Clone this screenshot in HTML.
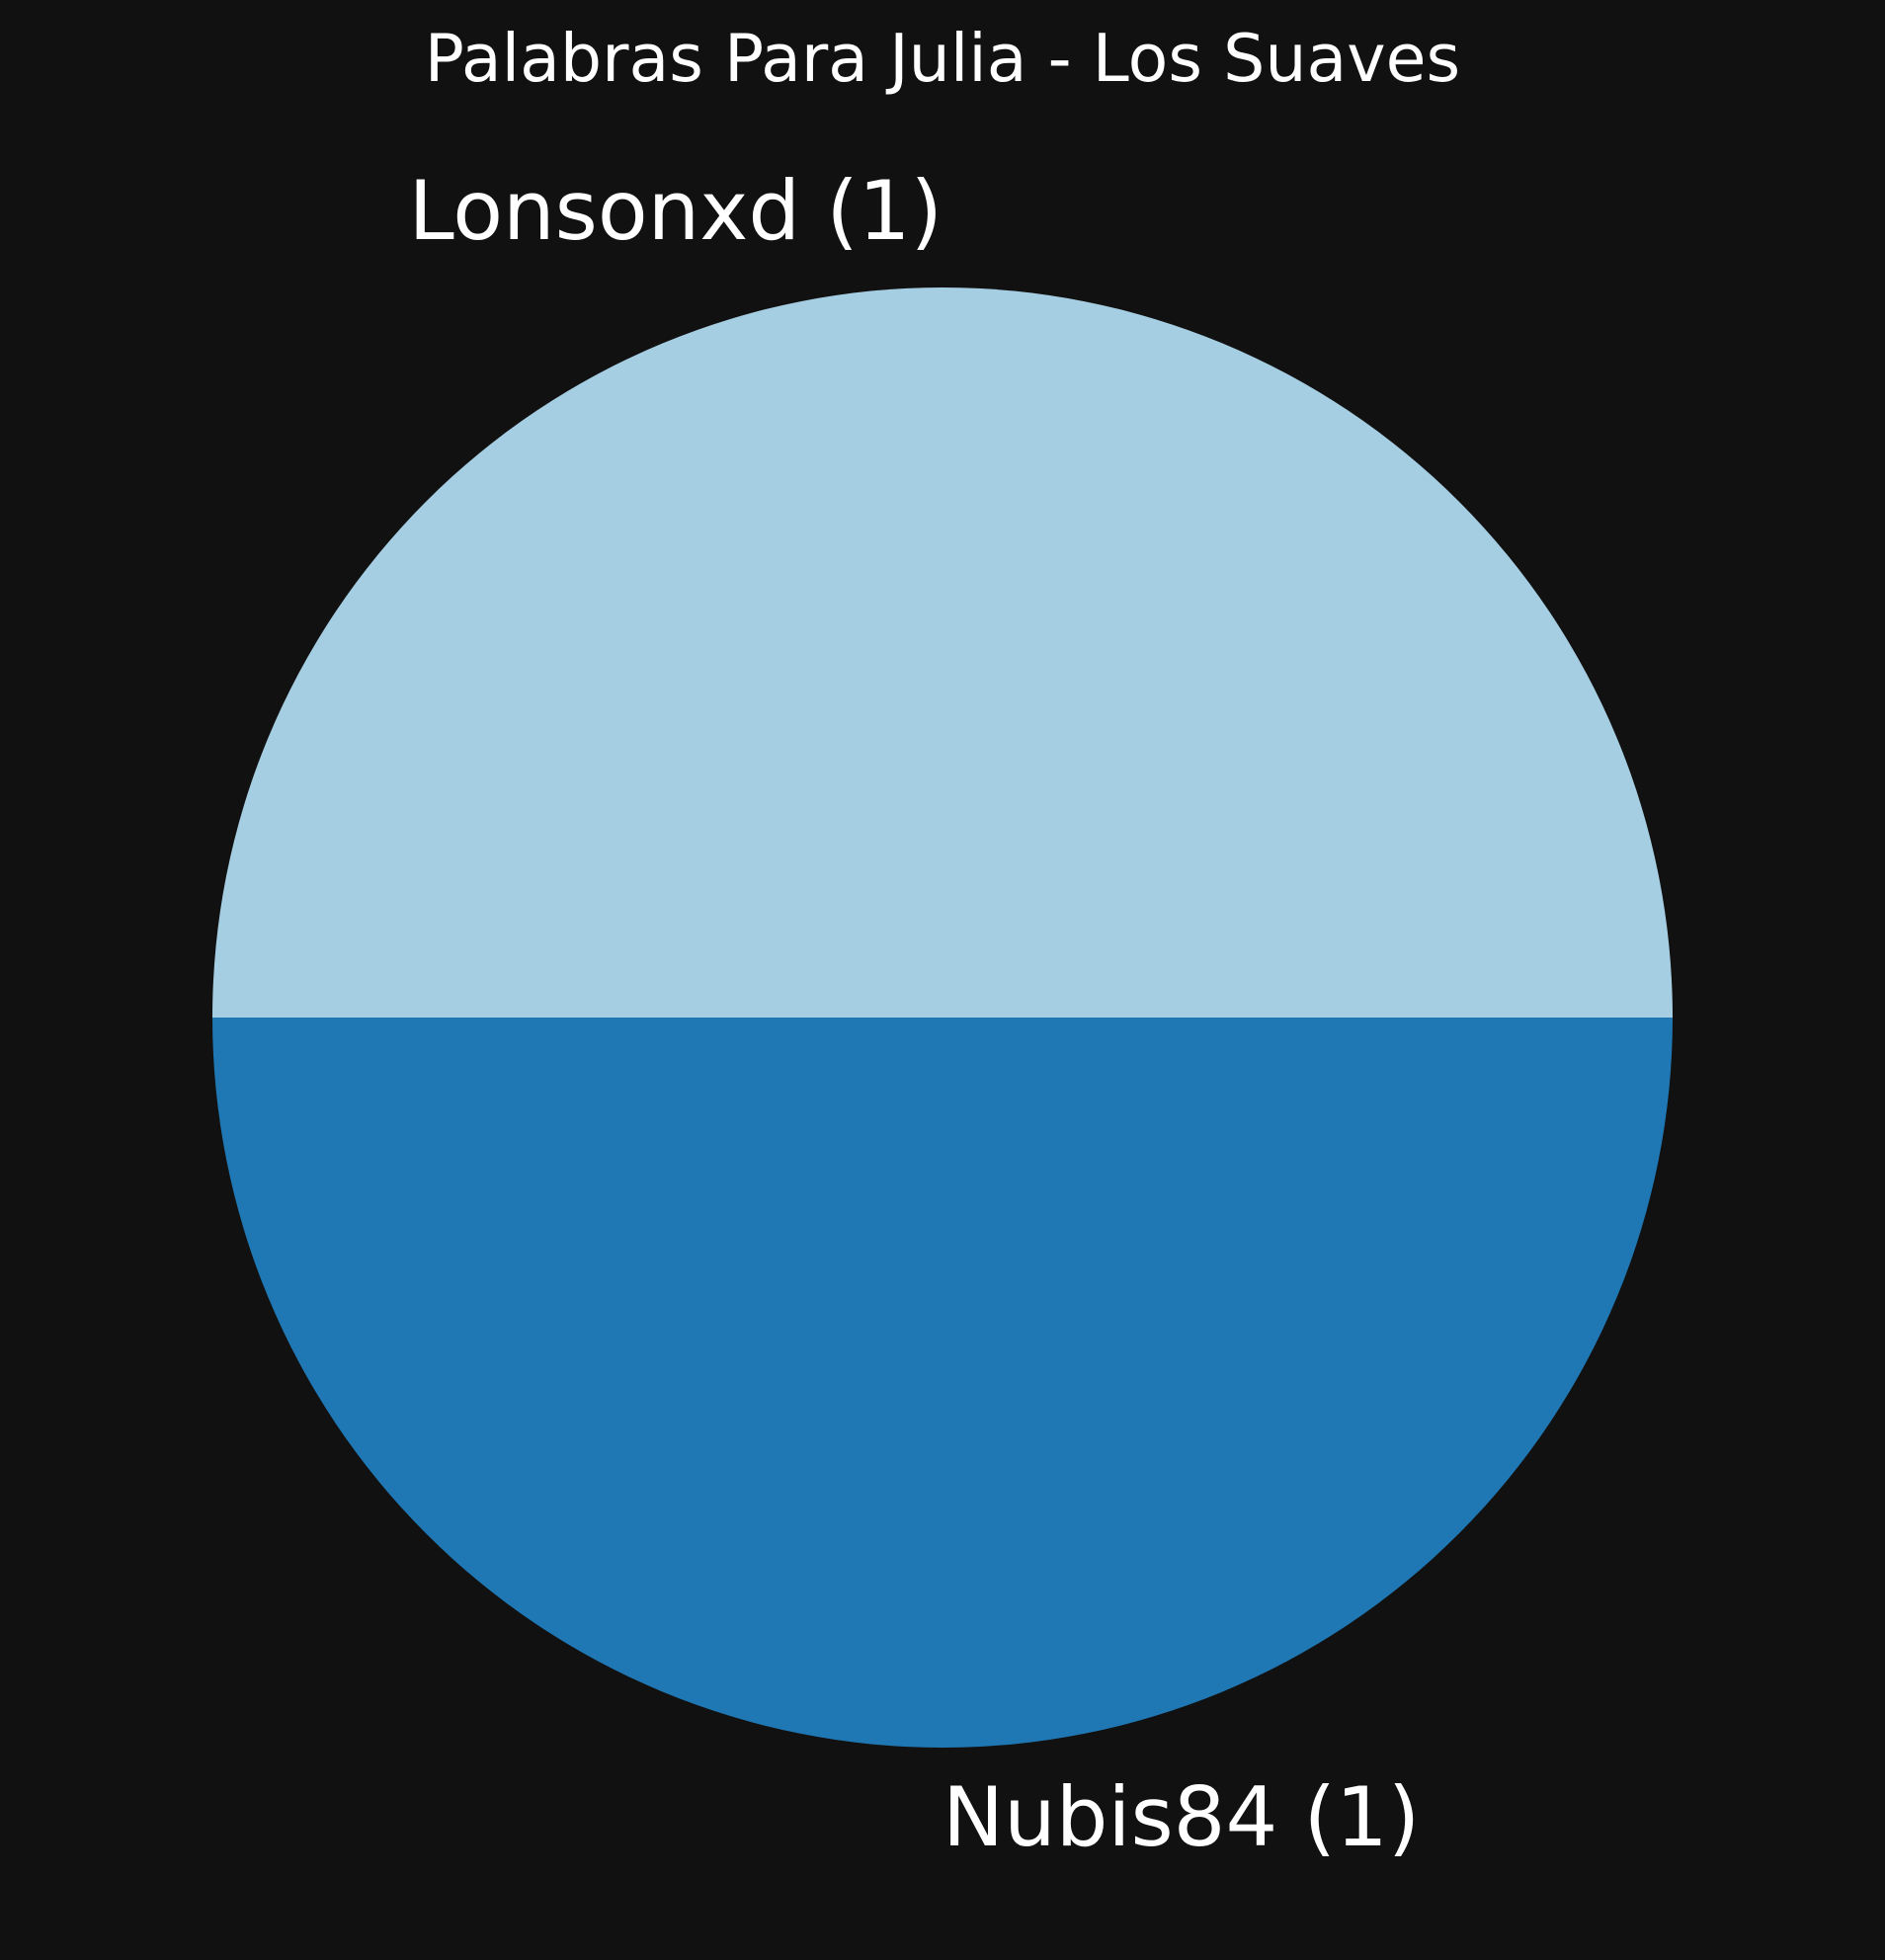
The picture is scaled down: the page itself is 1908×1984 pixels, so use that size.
<!DOCTYPE html>
<html><head><meta charset="utf-8"><style>
html,body{margin:0;padding:0;background:#111111;}
svg{display:block;}
text{font-family:"DejaVu Sans","Liberation Sans",sans-serif;fill:#ffffff;}
</style></head><body>
<svg id="chart" width="1908" height="1984">
<rect width="1908" height="1984" fill="#111111"/>
<text x="954" y="82" font-size="66.5" text-anchor="middle">Palabras Para Julia - Los Suaves</text>
<g id="slices"></g>
<g id="labels"></g>
</svg>
<script>
const labels = ["Lonsonxd", "Nubis84"];
const values = [1, 1];
const colors = ["#a6cee3", "#1f78b4"];
const cx = 954, cy = 1030, r = 739;
const ns = "http://www.w3.org/2000/svg";
const total = values.reduce((a,b)=>a+b,0);
let start = 0;
values.forEach((v,i)=>{
  const a0 = start/total*2*Math.PI, a1 = (start+v)/total*2*Math.PI;
  start += v;
  const x0 = cx + r*Math.cos(a0), y0 = cy - r*Math.sin(a0);
  const x1 = cx + r*Math.cos(a1), y1 = cy - r*Math.sin(a1);
  const large = (a1-a0) > Math.PI ? 1 : 0;
  const p = document.createElementNS(ns,"path");
  p.setAttribute("d",`M${cx},${cy} L${x0},${y0} A${r},${r} 0 ${large} 0 ${x1},${y1} Z`);
  p.setAttribute("fill",colors[i]);
  
  
  document.getElementById("slices").appendChild(p);
  const mid = (a0+a1)/2;
  const lx = cx + 1.1*r*Math.cos(mid), ly = cy - 1.1*r*Math.sin(mid);
  const t = document.createElementNS(ns,"text");
  t.setAttribute("x", lx);
  t.setAttribute("y", ly + 25);
  t.setAttribute("font-size","83");
  t.setAttribute("text-anchor", Math.cos(mid) < 1e-9 && Math.sin(mid) > 0 ? "end" : "start");
  t.textContent = labels[i] + " (" + values[i] + ")";
  
  
  document.getElementById("labels").appendChild(t);
});
</script>
</body></html>
